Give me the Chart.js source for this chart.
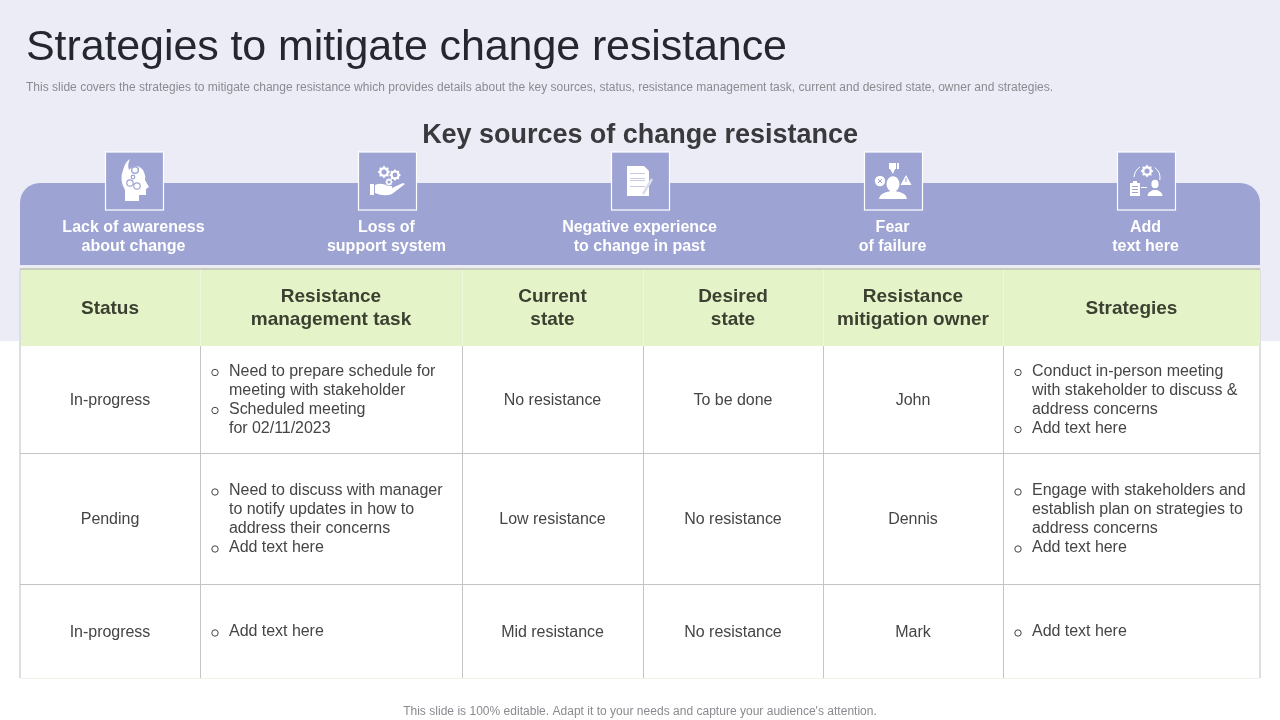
<!DOCTYPE html>
<html><head><meta charset="utf-8"><title>Strategies to mitigate change resistance</title>
<style>html,body{margin:0;padding:0;background:#fff;overflow:hidden}canvas{display:block}</style>
<script src="https://cdn.jsdelivr.net/npm/chart.js@4/dist/chart.umd.min.js"></script>
</head><body><canvas id="c" width="1280" height="720"></canvas>
<script>
const titleText = "Strategies to mitigate change resistance";
const subtitleText = "This slide covers the strategies to mitigate change resistance which provides details about the key sources, status, resistance management task, current and desired state, owner and strategies.";
const sectionTitle = "Key sources of change resistance";
const footerText = "This slide is 100% editable. Adapt it to your needs and capture your audience's attention.";
const keySources = [["Lack of awareness","about change"],["Loss of","support system"],["Negative experience","to change in past"],["Fear","of failure"],["Add","text here"]];
const headers = [["Status"],["Resistance","management task"],["Current","state"],["Desired","state"],["Resistance","mitigation owner"],["Strategies"]];
const statusValues = ["In-progress","Pending","In-progress"];
const taskItems = [
  [["Need to prepare schedule for","meeting with stakeholder"],["Scheduled meeting","for 02/11/2023"]],
  [["Need to discuss with manager","to notify updates in how to","address their concerns"],["Add text here"]],
  [["Add text here"]]];
const currentState = ["No resistance","Low resistance","Mid resistance"];
const desiredState = ["To be done","No resistance","No resistance"];
const owners = ["John","Dennis","Mark"];
const strategyItems = [
  [["Conduct in-person meeting","with stakeholder to discuss &","address concerns"],["Add text here"]],
  [["Engage with stakeholders and","establish plan on strategies to","address concerns"],["Add text here"]],
  [["Add text here"]]];

const columnEdges = [20,200,462,643,823,1003,1260];
const rowEdges = [269,345,453,584,678];
const iconCenters = [134.5,387.5,640.5,893.5,1146.5];
const C = {bg:"#ECECF6",band:"#9DA3D3",head:"#E5F3C9",grid:"#C4C4C4",ink:"#454545",headInk:"#3B4030",title:"#25272E",sub:"#8A8A90"};
const FF = '"Liberation Sans", Arial, sans-serif';

function text(ctx,s,x,y,font,color,align,ls){
  ctx.font=font;ctx.fillStyle=color;ctx.textAlign=align||"center";ctx.textBaseline="middle";
  ctx.letterSpacing=(ls||0)+"px";ctx.fillText(s,x,y);ctx.letterSpacing="0px";
}
function gear(ctx,cx,cy,r,col,hole){
  ctx.fillStyle=col;ctx.beginPath();
  for(let i=0;i<16;i++){const a=i*Math.PI/8,R=(i%2)?r*0.72:r;ctx[i?"lineTo":"moveTo"](cx+R*Math.cos(a),cy+R*Math.sin(a));}
  ctx.closePath();ctx.fill();
  ctx.fillStyle=hole;ctx.beginPath();ctx.arc(cx,cy,r*0.4,0,7);ctx.fill();
}
function person(ctx,cx,head,r,shoulderY,bottom,w){
  ctx.fillStyle="#fff";ctx.beginPath();ctx.ellipse(cx,head,r,r*1.2,0,0,7);ctx.fill();
  ctx.beginPath();ctx.moveTo(cx-w,bottom);ctx.quadraticCurveTo(cx-w,shoulderY,cx-2,shoulderY-2);ctx.lineTo(cx+2,shoulderY-2);ctx.quadraticCurveTo(cx+w,shoulderY,cx+w,bottom);ctx.closePath();ctx.fill();
}
const icons = [
 (ctx,c)=>{
  const x=c-134.5,b=C.band;ctx.save();ctx.translate(x,0);
  ctx.fillStyle="#fff";ctx.beginPath();ctx.moveTo(125,201);ctx.lineTo(125,190);ctx.quadraticCurveTo(119,180,123,170);ctx.quadraticCurveTo(125,162,130,159);ctx.quadraticCurveTo(127,165,129,170);
  ctx.quadraticCurveTo(136,162,143,170);ctx.quadraticCurveTo(146,176,145,180);ctx.lineTo(149,187);ctx.lineTo(146,189);ctx.lineTo(146,195);ctx.lineTo(139,195);ctx.lineTo(139,201);ctx.closePath();ctx.fill();
  ctx.beginPath();ctx.arc(135,170,4,0,7);ctx.fillStyle=b;ctx.fill();ctx.fillStyle="#fff";ctx.beginPath();ctx.arc(135,170,2.6,0,7);ctx.fill();
  ctx.strokeStyle=b;ctx.lineWidth=1.2;ctx.beginPath();ctx.arc(130,183,3.2,0,7);ctx.stroke();ctx.beginPath();ctx.arc(137,186,3.2,0,7);ctx.stroke();ctx.beginPath();ctx.arc(133,177,1.8,0,7);ctx.stroke();
  ctx.restore();},
 (ctx,c)=>{
  const x=c-387.5;ctx.save();ctx.translate(x,0);
  gear(ctx,384,172,6.5,"#fff",C.band);gear(ctx,395,175,6,"#fff",C.band);gear(ctx,389,182,4,"#fff",C.band);
  ctx.fillStyle="#fff";ctx.fillRect(370,184,4,11);
  ctx.beginPath();ctx.moveTo(375,185);ctx.quadraticCurveTo(381,182,388,186);ctx.lineTo(392,186);ctx.lineTo(392,188);ctx.lineTo(403,183);ctx.lineTo(405,184);ctx.lineTo(392,194);ctx.quadraticCurveTo(384,197,375,193);ctx.closePath();ctx.fill();
  ctx.restore();},
 (ctx,c)=>{
  const x=c-640.5;ctx.save();ctx.translate(x,0);
  ctx.fillStyle="#fff";ctx.beginPath();ctx.moveTo(627,166);ctx.lineTo(644,166);ctx.lineTo(649,171);ctx.lineTo(649,196);ctx.lineTo(627,196);ctx.closePath();ctx.fill();
  ctx.strokeStyle="#C9CBE4";ctx.lineWidth=1;[173,178,180,186].forEach(y=>{ctx.beginPath();ctx.moveTo(630,y+.5);ctx.lineTo(645,y+.5);ctx.stroke();});
  ctx.strokeStyle="#DADCEF";ctx.lineWidth=2.5;ctx.beginPath();ctx.moveTo(643,194);ctx.lineTo(652,179);ctx.stroke();
  ctx.restore();},
 (ctx,c)=>{
  const x=c-893.5;ctx.save();ctx.translate(x,0);
  person(ctx,893,184,6.5,193,199,14);
  ctx.fillStyle="#fff";ctx.fillRect(889,163,7,6);ctx.fillRect(897,163,2,6);ctx.beginPath();ctx.moveTo(890,169);ctx.lineTo(895,169);ctx.lineTo(893,174);ctx.closePath();ctx.fill();
  ctx.beginPath();ctx.arc(880,181,5.2,0,7);ctx.fill();ctx.strokeStyle=C.band;ctx.lineWidth=1;ctx.beginPath();ctx.moveTo(878,179);ctx.lineTo(882,183);ctx.moveTo(882,179);ctx.lineTo(878,183);ctx.stroke();
  ctx.fillStyle="#fff";ctx.beginPath();ctx.moveTo(906,175);ctx.lineTo(911.5,185);ctx.lineTo(900.5,185);ctx.closePath();ctx.fill();ctx.fillStyle=C.band;ctx.fillRect(905.5,178,1,4);
  ctx.restore();},
 (ctx,c)=>{
  const x=c-1146.5;ctx.save();ctx.translate(x,0);
  gear(ctx,1147,171,6.5,"#fff",C.band);
  ctx.strokeStyle="#fff";ctx.lineWidth=1;ctx.beginPath();ctx.arc(1147,178,13,Math.PI*1.02,Math.PI*1.32);ctx.stroke();ctx.beginPath();ctx.arc(1147,178,13,Math.PI*1.7,Math.PI*2.05);ctx.stroke();
  ctx.fillStyle="#fff";ctx.fillRect(1130,183,10,13);ctx.fillRect(1133,181,4,2);
  ctx.strokeStyle=C.band;ctx.beginPath();[186,189,192].forEach(y=>{ctx.moveTo(1132,y+.5);ctx.lineTo(1138,y+.5);});ctx.stroke();
  ctx.strokeStyle="#fff";ctx.beginPath();ctx.moveTo(1141,187.5);ctx.lineTo(1147,187.5);ctx.stroke();
  person(ctx,1155,184,3.6,192,196,7.5);
  ctx.restore();}
];

const slidePlugin = {
  id:"slide",
  beforeDraw(chart){
    const ctx=chart.ctx,W=chart.width;
    ctx.save();
    ctx.fillStyle="#fff";ctx.fillRect(0,0,W,chart.height);
    ctx.fillStyle=C.bg;ctx.fillRect(0,0,W,341);
    ctx.fillStyle=C.band;ctx.beginPath();ctx.roundRect(20,183,1240,82,[20,20,0,0]);ctx.fill();
    ctx.restore();
  },
  beforeDatasetsDraw(chart){
    const ctx=chart.ctx,sx=chart.scales.x,sy=chart.scales.y;
    ctx.save();
    const t=sy.getPixelForValue(rowEdges[0]),b=sy.getPixelForValue(rowEdges[1]);
    ctx.fillStyle=C.head;ctx.fillRect(sx.left+1,t+1,sx.width-1,b-t);
    ctx.fillStyle="#EFF7DC";
    columnEdges.slice(1,-1).forEach(e=>ctx.fillRect(Math.round(sx.getPixelForValue(e)),t+1,1,b-t));
    ctx.restore();
  },
  afterDraw(chart){
    const ctx=chart.ctx,sx=chart.scales.x,sy=chart.scales.y;
    const colMid=i=>(sx.getPixelForValue(columnEdges[i])+sx.getPixelForValue(columnEdges[i+1]))/2;
    const rowMid=i=>(sy.getPixelForValue(rowEdges[i])+sy.getPixelForValue(rowEdges[i+1]))/2;
    ctx.save();
    text(ctx,titleText,26,48.5,`43px ${FF}`,C.title,"left",-0.1);
    text(ctx,subtitleText,26,88,`12px ${FF}`,C.sub,"left",0.01);
    text(ctx,sectionTitle,640,136,`bold 27px ${FF}`,"#3A3A3E","center",-0.03);
    text(ctx,footerText,640,712,`12px ${FF}`,C.sub,"center",0.02);
    iconCenters.forEach((c,i)=>{
      ctx.fillStyle=C.band;ctx.fillRect(c-29,152,58,58);
      ctx.strokeStyle="#fff";ctx.lineWidth=1.2;ctx.strokeRect(c-29,152,58,58);
      icons[i](ctx,c);
      keySources[i].forEach((l,j)=>text(ctx,l,c-1,228+19*j,`bold 16px ${FF}`,"#fff","center",0));
    });
    headers.forEach((h,i)=>{
      const y0=rowMid(0)-(h.length-1)*11.5+1.5;
      h.forEach((l,j)=>text(ctx,l,colMid(i),y0+23*j,`bold 19px ${FF}`,C.headInk,"center",0));
    });
    const bullets=(items,col,r)=>{
      const n=items.reduce((a,it)=>a+it.length,0);
      let y=rowMid(r)-(n-1)*9.5;
      const left=sx.getPixelForValue(columnEdges[col]);
      items.forEach(it=>it.forEach((l,j)=>{
        if(j===0){ctx.strokeStyle=C.ink;ctx.lineWidth=1;ctx.beginPath();ctx.arc(left+15,y+2,3.2,0,7);ctx.stroke();}
        text(ctx,l,left+29,y+1,`16px ${FF}`,C.ink,"left",-0.03);
        y+=19;
      }));
    };
    for(let r=0;r<3;r++){
      const y=rowMid(r+1)+1.2;
      text(ctx,statusValues[r],colMid(0),y,`16px ${FF}`,C.ink,"center",-0.03);
      bullets(taskItems[r],1,r+1);
      text(ctx,currentState[r],colMid(2),y,`16px ${FF}`,C.ink,"center",-0.03);
      text(ctx,desiredState[r],colMid(3),y,`16px ${FF}`,C.ink,"center",-0.03);
      text(ctx,owners[r],colMid(4),y,`16px ${FF}`,C.ink,"center",-0.03);
      bullets(strategyItems[r],5,r+1);
    }
    ctx.restore();
  }
};

new Chart(document.getElementById("c"),{
  type:"scatter",
  data:{datasets:[{data:[],pointRadius:0}]},
  options:{
    responsive:false,animation:false,devicePixelRatio:1,
    layout:{padding:{left:20,right:20,top:269,bottom:42}},
    plugins:{legend:{display:false},tooltip:{enabled:false}},
    scales:{
      x:{type:"linear",position:"top",min:columnEdges[0],max:columnEdges[columnEdges.length-1],
         afterBuildTicks:s=>{s.ticks=columnEdges.map(v=>({value:v}));},
         ticks:{display:false},border:{display:false},
         grid:{drawTicks:false,tickLength:0,color:c=>(c.index===0||c.index===columnEdges.length-1)?"#DEDEDE":C.grid,lineWidth:c=>(c.index===0||c.index===columnEdges.length-1)?2:1}},
      y:{type:"linear",reverse:true,min:rowEdges[0],max:rowEdges[rowEdges.length-1],
         afterBuildTicks:s=>{s.ticks=rowEdges.map(v=>({value:v}));},
         ticks:{display:false},border:{display:false},
         grid:{drawTicks:false,tickLength:0,color:c=>c.index===1?"rgba(0,0,0,0)":c.index===0?"#C9CEBE":c.index===rowEdges.length-1?"#F2F1EA":C.grid,lineWidth:c=>c.index===0?2:1}}
    }
  },
  plugins:[slidePlugin]
});
</script></body></html>
